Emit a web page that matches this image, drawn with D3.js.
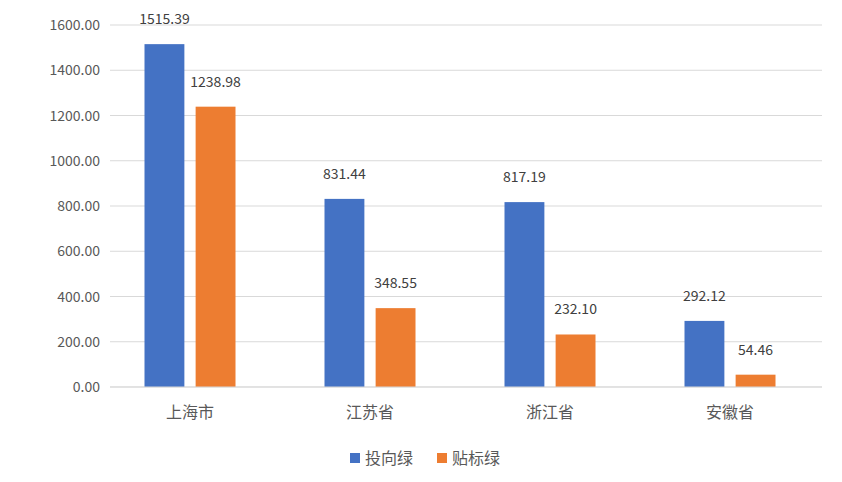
<!DOCTYPE html>
<html><head><meta charset="utf-8">
<script src="https://cdn.jsdelivr.net/npm/d3@7"></script>
<style>body{margin:0;background:#fff}</style>
</head><body>
<svg id="chart" width="842" height="482"></svg>
<script>
var categories = ["上海市","江苏省","浙江省","安徽省"];
var seriesNames = ["投向绿","贴标绿"];
var greenLoans = [1515.39, 831.44, 817.19, 292.12];
var labelledGreen = [1238.98, 348.55, 232.10, 54.46];
var yTicks = [0,200,400,600,800,1000,1200,1400,1600];
var colors = ["#4472C4","#ED7D31"];

var svg = d3.select("#chart"),
    font = "'Noto Sans CJK SC','Noto Sans',sans-serif",
    textColor = "#595959";

var y = d3.scaleLinear().domain([0,1600]).range([387,25]);
var x0 = d3.scaleBand().domain(categories).range([100,820]);
var x1 = d3.scaleBand().domain(seriesNames).range([-45.5,45.5]).paddingInner(0.22);

// gridlines + y labels
svg.append("g").selectAll("line").data(yTicks).enter().append("line")
    .attr("x1",110).attr("x2",822)
    .attr("y1",d=>y(d)).attr("y2",d=>y(d))
    .attr("stroke","#d9d9d9").attr("stroke-width",1);
svg.append("g").selectAll("text").data(yTicks).enter().append("text")
    .attr("x",100).attr("y",d=>y(d)+5)
    .attr("text-anchor","end").attr("font-size",14).attr("font-family",font)
    .attr("fill",textColor).text(d=>d.toFixed(2));

var seriesData = [greenLoans, labelledGreen];
seriesData.forEach(function(vals,i){
    var g = svg.append("g");
    g.selectAll("rect").data(vals).enter().append("rect")
	.attr("x",(d,j)=>x0(categories[j])+x0.bandwidth()/2+x1(seriesNames[i]))
	.attr("y",d=>y(d))
	.attr("width",x1.bandwidth())
	.attr("height",d=>y(0)-y(d))
	.attr("fill",colors[i]);
    g.selectAll("text").data(vals).enter().append("text")
	.attr("x",(d,j)=>x0(categories[j])+x0.bandwidth()/2+x1(seriesNames[i])+x1.bandwidth()/2)
	.attr("y",d=>y(d)-20)
	.attr("text-anchor","middle").attr("font-size",14).attr("font-family",font)
	.attr("fill","#404040").text(d=>d.toFixed(2));
});

// baseline
svg.append("line").attr("x1",110).attr("x2",822).attr("y1",y(0)).attr("y2",y(0))
    .attr("stroke","#d9d9d9");

// category labels
svg.append("g").selectAll("text").data(categories).enter().append("text")
    .attr("x",d=>x0(d)+x0.bandwidth()/2).attr("y",418)
    .attr("text-anchor","middle").attr("font-size",16).attr("font-family",font)
    .attr("fill",textColor).text(d=>d);

// legend
var legendX = [350,437];
seriesNames.forEach(function(n,i){
    svg.append("rect").attr("x",legendX[i]).attr("y",453).attr("width",10).attr("height",10)
	.attr("fill",colors[i]);
    svg.append("text").attr("x",legendX[i]+15).attr("y",464)
	.attr("font-size",16).attr("font-family",font).attr("fill",textColor).text(n);
});
</script>
</body></html>
